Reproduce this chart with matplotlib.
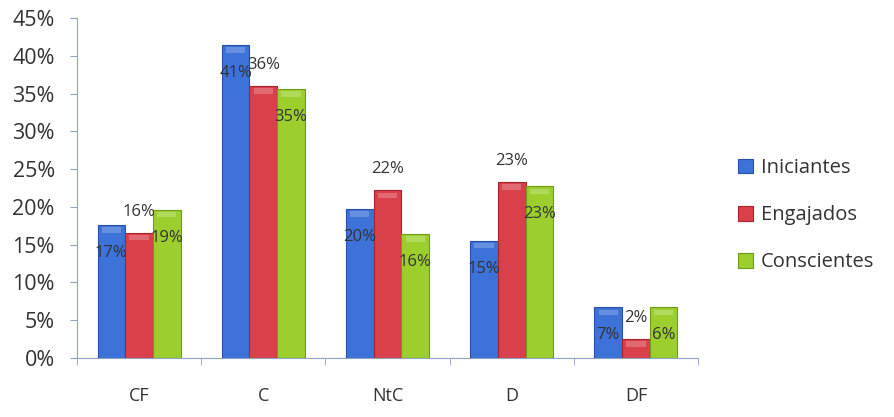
import numpy as np
import matplotlib.pyplot as plt
from matplotlib.ticker import MultipleLocator, FuncFormatter

categories = ["CF", "C", "NtC", "D", "DF"]
iniciantes = [17.6, 41.4, 19.7, 15.5, 6.7]
engajados = [16.6, 36.0, 22.2, 23.3, 2.5]
conscientes = [19.6, 35.6, 16.4, 22.7, 6.7]
lab_ini = ["17%", "41%", "20%", "15%", "7%"]
lab_eng = ["16%", "36%", "22%", "23%", "2%"]
lab_con = ["19%", "35%", "16%", "23%", "6%"]

plt.rcParams['font.family'] = ['Open Sans', 'DejaVu Sans']
txt = '#333333'
axcol = '#8fa3c6'

fig = plt.figure(figsize=(8.94, 4.17), dpi=100)
ax = fig.add_axes([0.0861, 0.1415, 0.6947, 0.8153])

x = np.arange(len(categories))
w = 0.223
series = [
    (iniciantes, lab_ini, "Iniciantes", '#3d72d9', '#2650a8', -1, -20),
    (engajados, lab_eng, "Engajados", '#d9404a', '#a8232c', 0, 15),
    (conscientes, lab_con, "Conscientes", '#9ccf2e', '#6f9a16', 1, -20),
]
for vals, labs, name, col, edge, k, off in series:
    ax.bar(x + k * w, vals, w, color=col, edgecolor=edge, linewidth=0.8, label=name)
    # soft highlight near the top, like the bevelled original
    ax.bar(x + k * w, [0.7] * len(vals), w * 0.7, bottom=np.array(vals) - 1.0,
           color='white', alpha=0.22, linewidth=0)
    for xi, v, s in zip(x + k * w, vals, labs):
        ax.annotate(s, (xi, v), xytext=(0, off), textcoords='offset points',
                    ha='center', va='center', fontsize=12, color=txt)

ax.set_xlim(-0.5, len(categories) - 0.5)
ax.set_ylim(0, 45)
ax.yaxis.set_major_locator(MultipleLocator(5))
ax.yaxis.set_major_formatter(FuncFormatter(lambda v, p: f"{v:.0f}%"))
ax.set_xticks(x)
ax.set_xticklabels(categories)
ax.set_xticks(np.arange(-0.5, len(categories)), minor=True)
ax.tick_params(axis='x', which='major', length=0, pad=21, labelsize=13, labelcolor=txt)
ax.tick_params(axis='x', which='minor', length=5, color=axcol)
ax.tick_params(axis='y', length=5, color=axcol, pad=11, labelsize=15.5, labelcolor=txt)

for s in ['top', 'right']:
    ax.spines[s].set_visible(False)
for s in ['left', 'bottom']:
    ax.spines[s].set_color(axcol)

leg = ax.legend(loc='center left', bbox_to_anchor=(1.035, 0.42), frameon=False,
                fontsize=14.5, handlelength=0.75, handleheight=0.75, labelspacing=1.35,
                handletextpad=0.4)
for t in leg.get_texts():
    t.set_color(txt)

fig.savefig("out.png", dpi=100)
